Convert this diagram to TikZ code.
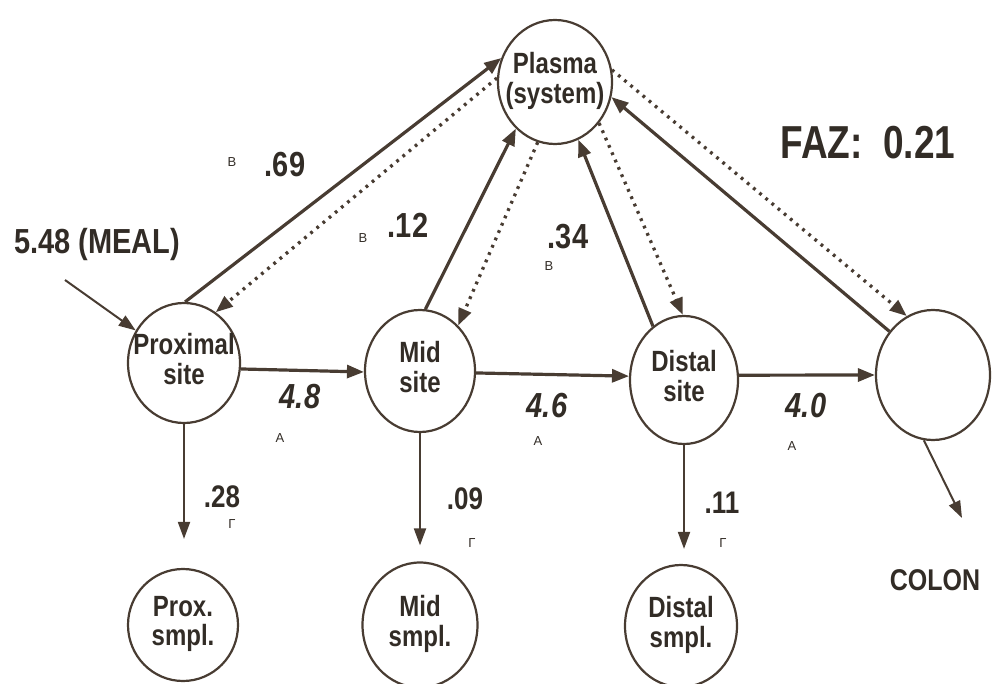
\documentclass[tikz,border=0pt]{standalone}
\usepackage{fontspec}
\setmainfont{Liberation Sans}
\usetikzlibrary{arrows.meta,shapes.geometric}
\definecolor{ink}{RGB}{72,60,50}
\definecolor{txt}{RGB}{50,44,38}
\newcommand{\twolines}[2]{\scalebox{1}[1.22]{\begin{tabular}{@{}c@{}}#1\\#2\end{tabular}}}
\newcommand{\tall}[1]{\scalebox{1}[1.2]{#1}}
\begin{document}
\begin{tikzpicture}[x=1pt,y=-1pt,
  circ/.style={ellipse,draw=ink,line width=2.2pt,inner sep=0pt},
  lbl/.style={align=center,text=txt,inner sep=0pt,font=\bfseries\fontsize{24}{23}\selectfont},
  solidarr/.style={draw=ink,line width=3.2pt,-{Triangle[length=17pt,width=13pt]}},
  dotarr/.style={draw=ink,line width=3.3pt,dash pattern=on 2.8pt off 5.2pt,-{Triangle[length=17pt,width=13pt]}},
  thinarr/.style={draw=ink,line width=2pt,-{Triangle[length=17pt,width=12pt]}},
  num/.style={text=txt,font=\bfseries\fontsize{29}{32}\selectfont},
  inum/.style={text=txt,font=\bfseries\itshape\fontsize{29}{32}\selectfont},
  tiny/.style={text=txt,inner sep=1pt,font=\fontsize{13}{14}\selectfont}
]
\useasboundingbox (0,0) rectangle (995,684);
\begin{scope}
\clip (0,0) rectangle (995,684);

% nodes
\node[circ,minimum width=114pt,minimum height=124pt,label={[lbl]center:{\twolines{Plasma}{(system)}}}] (plasma) at (555,82) {};
\node[circ,minimum width=112pt,minimum height=120pt,label={[lbl]center:{\twolines{Proximal}{site}}}] (prox) at (184,363) {};
\node[circ,minimum width=110pt,minimum height=122pt,label={[lbl]center:{\twolines{Mid}{site}}}] (mid) at (420,371) {};
\node[circ,minimum width=108pt,minimum height=128pt,label={[lbl]center:{\twolines{Distal}{site}}}] (dist) at (684,380) {};
\node[circ,minimum width=114pt,minimum height=130pt] (colon) at (933,375) {};
\node[circ,minimum width=110pt,minimum height=112pt,label={[lbl]center:{\twolines{Prox.}{smpl.}}}] (proxs) at (183,625) {};
\node[circ,minimum width=115pt,minimum height=125pt,label={[lbl]center:{\twolines{Mid}{smpl.}}}] (mids) at (420,625) {};
\node[circ,minimum width=112pt,minimum height=122pt,label={[lbl]center:{\twolines{Distal}{smpl.}}}] (dists) at (681,626) {};

\coordinate (mealstart) at (65,280);
\coordinate (colonend) at (962,518);

% texts
\node[text=txt,font=\bfseries\fontsize{29}{32}\selectfont] (meal) at (97,245) {\tall{5.48 (MEAL)}};
\node[tiny] (b1) at (232,162) {B};
\node[num] (n69) at (285,165) {\tall{.69}};
\node[tiny] (b2) at (363,238) {B};
\node[num] (n12) at (408,225) {\tall{.12}};
\node[num] (n34) at (568,237) {\tall{.34}};
\node[tiny] (b3) at (549,266) {B};
\node[text=txt,font=\bfseries\fontsize{37}{40}\selectfont] (faz) at (868,143) {\scalebox{1}[1.25]{FAZ:\ \ 0.21}};
\node[inum] (n48) at (300,397) {\tall{4.8}};
\node[tiny] (a1) at (280,438) {A};
\node[inum] (n46) at (547,406) {\tall{4.6}};
\node[tiny] (a2) at (538,441) {A};
\node[inum] (n40) at (806,406) {\tall{4.0}};
\node[tiny] (a3) at (792,446) {A};
\node[num,font=\bfseries\fontsize{26}{28}\selectfont] (n28) at (222,497) {\tall{.28}};
\node[tiny] (g1) at (232,524) {Г};
\node[num,font=\bfseries\fontsize{26}{28}\selectfont] (n09) at (465,499) {\tall{.09}};
\node[tiny] (g2) at (472,543) {Г};
\node[num,font=\bfseries\fontsize{26}{28}\selectfont] (n11) at (722,503) {\tall{.11}};
\node[tiny] (g3) at (723,543) {Г};
\node[text=txt,font=\bfseries\fontsize{25}{27}\selectfont] (colt) at (935,580) {\tall{COLON}};

% connectors
\draw[thinarr] (mealstart) -- (prox.146);
\draw[solidarr] (prox.89) -- (plasma.156);
\draw[dotarr] (plasma.176) -- (prox.58);
\draw[solidarr] (prox.-6) -- (mid.181);
\draw[solidarr] (mid.-2) -- (dist.176);
\draw[solidarr] (dist.5) -- (colon.180);
\draw[solidarr] (mid.85) -- (plasma.230);
\draw[dotarr] (plasma.254) -- (mid.50);
\draw[solidarr] (dist.120) -- (plasma.292);
\draw[dotarr] (plasma.317) -- (dist.91);
\draw[solidarr] (colon.135) -- (plasma.345);
\draw[dotarr] (plasma.12) -- (colon.114);
\draw[thinarr,shorten >=29pt] (prox.-90) -- (prox.-90 |- proxs.north);
\draw[thinarr,shorten >=16pt] (mid.-90) -- (mid.-90 |- mids.north);
\draw[thinarr,shorten >=15pt] (dist.-90) -- (dist.-90 |- dists.north);
\draw[thinarr] (colon.-98) -- (colonend);
\end{scope}
\end{tikzpicture}
\end{document}
